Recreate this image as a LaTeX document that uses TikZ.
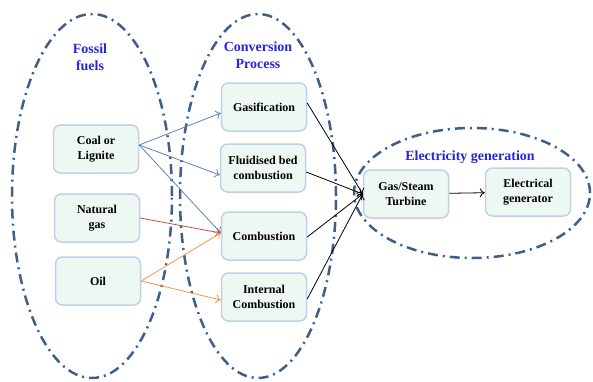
\documentclass[tikz,border=0pt]{standalone}
\usepackage{fontspec}
\setmainfont{Liberation Serif}
\usepackage{tikz}
\usetikzlibrary{arrows.meta,positioning}

\definecolor{rimblue}{HTML}{3E5F8A}
\definecolor{boxline}{HTML}{BFD1E8}
\definecolor{boxfill}{HTML}{EEF8F3}
\definecolor{titleblue}{HTML}{2626D9}
\definecolor{coalblue}{HTML}{5E82BA}
\definecolor{gasred}{HTML}{C0504D}
\definecolor{oilorange}{HTML}{F79646}

\begin{document}
\begin{tikzpicture}[x=1pt,y=1pt,
	box/.style={draw=boxline,fill=boxfill,line width=1.5pt,rounded corners=7pt,minimum width=85pt,minimum height=48pt,align=center,inner sep=2pt,font=\fontsize{12}{15}\selectfont\bfseries},
	rim/.style={draw=rimblue,line width=2.5pt,dash pattern=on 10pt off 5pt on 2pt off 5pt},
	heading/.style={text=titleblue,align=center,font=\fontsize{14}{17}\selectfont\bfseries},
	feed/.style={->,line width=0.8pt},
	>={To[length=5pt,width=9pt]}]
	\useasboundingbox (0,0) rectangle (593,381);
	\draw[rim] (92,185) ellipse [x radius=80,y radius=182];
	\draw[rim] (258,185) ellipse [x radius=78,y radius=182];
	\draw[rim] (472,188) ellipse [x radius=118,y radius=65];
	\path (90,324) node (fossil) [heading] {Fossil\\fuels}
		  (258,326) node (conversion) [heading] {Conversion\\Process}
		  (470,224) node (electricity) [heading] {Electricity generation};
	\path (96,232) node (coal) [box] {Coal or\\Lignite}
		  (97,163) node (gas) [box] {Natural\\gas}
		  (98,100) node (oil) [box] {Oil}
		  (264,274) node (gasif) [box] {Gasification}
		  (263,213) node (fluid) [box] {Fluidised bed\\combustion}
		  (264,145) node (comb) [box] {Combustion}
		  (264,84) node (internal) [box] {Internal\\Combustion}
		  (406,187) node (turbine) [box] {Gas/Steam\\Turbine}
		  (528,189) node (generator) [box] {Electrical\\generator};
	\draw[feed,coalblue] ([yshift=4pt]coal.east) -- ([yshift=-6pt]gasif.west);
	\draw[feed,coalblue] ([yshift=4pt]coal.east) -- ([yshift=-7pt]fluid.west);
	\draw[feed,coalblue] ([yshift=4pt]coal.east) -- ([yshift=3pt]comb.west);
	\draw[feed,gasred] (gas.east) -- ([yshift=3pt]comb.west);
	\draw[feed,oilorange] (oil.east) -- ([yshift=3pt]comb.west);
	\draw[feed,oilorange] (oil.east) -- ([yshift=-3pt]internal.west);
	\draw[feed] ([yshift=4pt]gasif.east) -- (turbine.west);
	\draw[feed] ([yshift=-4pt]fluid.east) -- (turbine.west);
	\draw[feed] ([yshift=-1pt]comb.east) -- (turbine.west);
	\draw[feed] ([yshift=-2pt]internal.east) -- (turbine.west);
	\draw[feed] (turbine) -- (generator);
\end{tikzpicture}
\end{document}
